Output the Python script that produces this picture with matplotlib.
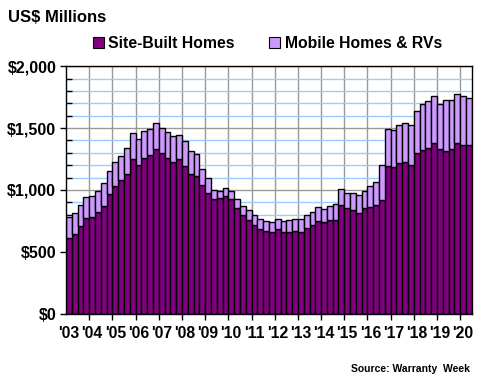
import matplotlib
matplotlib.use("Agg")
import matplotlib.pyplot as plt
import numpy as np
from matplotlib.ticker import MultipleLocator, FixedLocator

plt.rcParams['font.family'] = ['Liberation Sans', 'DejaVu Sans']
plt.rcParams['font.weight'] = 'bold'

# quarterly values, Q1 2003 .. Q2 2020
site_built = [613, 645, 710, 775, 783, 823, 872, 969, 1034, 1077, 1131, 1253,
              1204, 1261, 1285, 1334, 1301, 1261, 1228, 1253, 1196, 1131, 1115, 1041,
              977, 928, 936, 952, 928, 855, 799, 758, 718, 686, 670, 662,
              686, 662, 662, 670, 662, 694, 718, 750, 742, 758, 758, 880,
              855, 839, 815, 855, 864, 880, 920, 1195, 1187, 1219, 1227, 1203,
              1300, 1324, 1340, 1381, 1332, 1316, 1332, 1381, 1364, 1364]
mobile_rv = [170, 170, 170, 170, 170, 170, 186, 186, 194, 200, 211, 210,
             211, 218, 211, 210, 203, 210, 211, 194, 202, 186, 178, 129,
             121, 75, 57, 65, 65, 73, 73, 81, 81, 81, 80, 80,
             81, 88, 96, 97, 105, 105, 105, 114, 105, 116, 130, 129,
             122, 138, 145, 138, 169, 186, 283, 299, 299, 307, 315, 323,
             339, 372, 380, 379, 364, 412, 396, 395, 396, 380]
year_labels = ["'03", "'04", "'05", "'06", "'07", "'08", "'09", "'10", "'11",
               "'12", "'13", "'14", "'15", "'16", "'17", "'18", "'19", "'20"]
series_names = ['Site-Built Homes', 'Mobile Homes & RVs']

dark = '#800080'
light = '#CC99FF'

fig = plt.figure(figsize=(4.8, 3.8), dpi=100)
ax = fig.add_axes([0.1375, 0.174, 0.8455, 0.652])

x = np.arange(len(site_built))
ax.bar(x, site_built, width=1.0, color=dark, edgecolor='black', linewidth=1.0,
       label=series_names[0], zorder=3)
ax.bar(x, mobile_rv, width=1.0, bottom=site_built, color=light, edgecolor='black',
       linewidth=1.0, label=series_names[1], zorder=3)

ax.set_xlim(-0.5, len(site_built) - 0.5)
ax.set_ylim(0, 2000)

# grid lines
ax.yaxis.set_major_locator(MultipleLocator(500))
ax.yaxis.set_minor_locator(MultipleLocator(100))
ax.grid(which='minor', axis='y', color='#99CCFF', linewidth=1.0, zorder=0)
ax.grid(which='major', axis='y', color='#999999', linewidth=1.0, zorder=1)
bounds = np.arange(3.5, len(site_built), 4)
ax.xaxis.set_major_locator(FixedLocator(bounds))
ax.grid(which='major', axis='x', color='#999999', linewidth=1.0, zorder=1)
ax.set_axisbelow(True)

ax.set_yticklabels([f'${v:,.0f}' for v in ax.get_yticks()])
ax.tick_params(axis='y', which='major', direction='out', length=4, width=1,
               labelsize=11.5, pad=3)
ax.tick_params(axis='y', which='minor', direction='in', length=4, width=1)

ax.set_xticklabels([''] * len(bounds))
ax.xaxis.set_minor_locator(FixedLocator(np.arange(0, len(site_built), 4)))
ax.xaxis.set_minor_formatter(plt.FixedFormatter(year_labels))
ax.tick_params(axis='x', which='major', direction='out', length=4, width=1)
ax.tick_params(axis='x', which='minor', length=0, labelsize=11.3, pad=9)

for s in ax.spines.values():
    s.set_color('black')
    s.set_linewidth(1.0)
    s.set_zorder(5)

fig.text(0.017, 0.955, 'US$ Millions', fontsize=12, fontweight='bold', va='center')

leg = fig.legend(loc='center left', bbox_to_anchor=(0.193, 0.886), ncol=2,
                 frameon=False, fontsize=11.3, handlelength=0.7, handleheight=0.7,
                 handletextpad=0.3, columnspacing=2.2, borderpad=0, borderaxespad=0)
for p in leg.get_patches():
    p.set_linewidth(0.8)

fig.text(0.979, 0.029, 'Source: Warranty  Week', fontsize=7.5, fontweight='bold',
         ha='right', va='center')

fig.savefig('out.png', dpi=100)
